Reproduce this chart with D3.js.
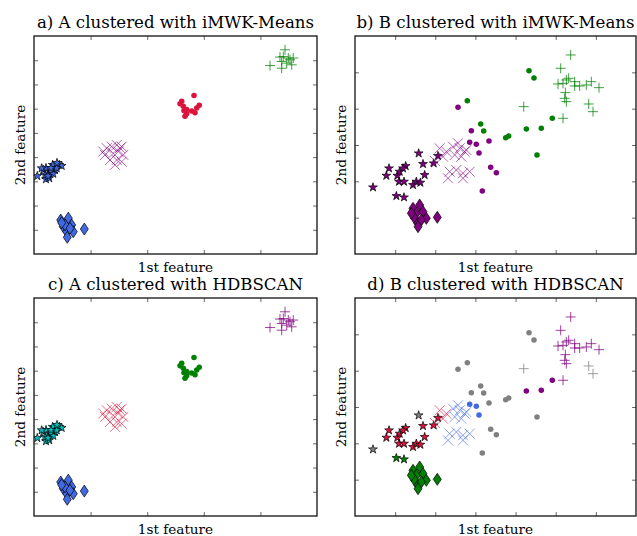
<!DOCTYPE html>
<html><head><meta charset="utf-8">
<script src="https://cdn.jsdelivr.net/npm/d3@7"></script>
<style>body{margin:0;background:#fff}svg{display:block}</style>
</head><body>
<svg id="chart" width="637" height="536"></svg>
<script>
// ---------- Data set A (same points in panels a and c) ----------
const A_star = [[0.058,3.22],[0.164,3.47],[0.212,3.55],[0.253,3.33],[0.330,3.68],[0.371,3.47],[0.447,3.68],[0.489,3.64],[0.212,3.09],[0.270,3.13],[0.295,3.40],[0.341,3.31],[0.136,3.54],[0.401,3.54],[0.194,3.26],[0.300,3.55],[0.406,3.76],[0.247,3.22]];
const A_diamond = [[0.472,1.40],[0.606,1.48],[0.518,1.13],[0.666,1.20],[0.578,0.92],[0.694,0.92],[0.588,0.69],[0.548,1.20],[0.889,1.03],[0.636,1.06],[0.489,1.29]];
const A_x = [[1.284,4.37],[1.373,4.43],[1.461,4.50],[1.549,4.43],[1.254,4.09],[1.401,4.16],[1.489,4.23],[1.578,4.09],[1.343,3.88],[1.461,3.88],[1.431,3.68],[1.549,3.81],[1.224,4.23],[1.519,4.37]];
const A_circle = [[2.610,6.31],[2.827,6.54],[2.638,6.10],[2.698,5.96],[2.786,5.90],[2.875,6.03],[2.920,6.14],[2.845,5.83],[2.668,5.69],[2.698,5.79],[2.580,6.20],[2.650,5.91]];
const A_plus = [[4.435,8.43],[4.405,8.15],[4.493,8.09],[4.581,8.09],[4.376,7.95],[4.465,7.88],[4.553,7.81],[4.170,7.78],[4.376,7.67],[4.523,8.02],[4.346,8.13]];
// cluster label of each class in A
const A_imwkLabel = {star:0, diamond:0, x:1, circle:2, plus:3};
const A_hdbLabel  = {star:0, diamond:1, x:2, circle:3, plus:4};

// ---------- Data set B (same points in panels b and d) ----------
const B_star = [[0.448,1.835],[0.781,2.156],[0.847,2.358],[1.054,2.156],[1.113,2.266],[1.096,1.991],[1.221,1.991],[1.262,2.422],[1.196,2.358],[1.030,1.596],[1.221,1.560],[1.445,1.899],[1.528,1.991],[1.628,1.963],[1.586,2.771],[1.694,2.477],[1.735,2.174],[1.960,2.496],[2.067,2.697]];
const B_star_imwk = [1,1,1,1,1,1,1,1,1,1,1,1,1,1,1,1,1,1,1];
const B_star_hdb  = [-1,0,0,0,0,0,0,0,0,1,1,0,0,0,-1,0,0,0,0];
const B_diamond = [[1.445,1.257],[1.611,1.349],[1.528,1.120],[1.694,1.165],[1.777,0.982],[1.486,0.982],[1.570,0.844],[1.653,0.936],[1.570,0.752],[2.050,1.009],[1.403,1.120]];
const B_diamond_imwk = [1,1,1,1,1,1,1,1,1,1,1];
const B_diamond_hdb  = [1,1,1,1,1,1,1,1,1,1,1];
const B_x = [[2.109,2.909],[2.275,2.817],[2.441,2.954],[2.607,2.909],[2.773,2.863],[2.192,2.679],[2.483,2.725],[2.649,2.679],[2.732,2.817],[2.358,2.266],[2.524,2.312],[2.690,2.221],[2.857,2.266],[2.317,2.083],[2.690,2.083],[2.566,3.047],[1.990,2.560]];
const B_x_imwk = [1,1,1,1,1,1,1,1,1,1,1,1,1,1,1,1,1];
const B_x_hdb  = [0,0,2,2,2,0,2,2,2,2,2,2,2,2,2,2,0];
const B_circle = [[2.566,4.037],[2.898,3.394],[2.857,3.074],[3.022,3.019],[3.089,2.780],[3.338,3.110],[3.380,2.386],[3.521,2.238],[3.171,1.734],[2.798,4.220],[3.131,3.578],[3.206,3.386],[3.754,3.202],[3.829,3.248],[4.268,3.441],[4.641,3.460],[4.915,3.735],[4.335,5.045],[4.459,4.845],[4.534,2.725]];
const B_circle_imwk = [1,1,1,1,1,1,1,1,1,2,2,2,2,2,2,2,2,2,2,2];
const B_circle_hdb  = [-1,-1,2,2,2,-1,-1,-1,-1,-1,-1,-1,-1,-1,3,3,3,-1,-1,-1];
const B_plus = [[5.373,5.478],[5.124,5.111],[5.057,4.679],[5.182,4.697],[5.265,4.790],[5.323,4.836],[5.473,4.743],[5.473,4.624],[5.597,4.624],[5.763,4.652],[5.887,4.743],[6.079,4.578],[5.240,4.441],[5.224,4.285],[5.265,4.193],[5.822,4.129],[5.929,3.917],[4.203,4.055],[5.182,3.735]];
const B_plus_imwk = [2,2,2,2,2,2,2,2,2,2,2,2,2,2,2,2,2,2,2];
const B_plus_hdb  = [3,3,3,3,3,3,3,3,3,3,3,3,3,3,3,-1,-1,-1,3];

// ---------- Tick values and titles ----------
const ticksA_x = [1,2,3,4], ticksA_y = [1,2,3,4,5,6,7,8];
const ticksB_x = [1,2,3,4,5,6], ticksB_y = [1,2,3,4,5];
const titles = ["a) A clustered with iMWK-Means","b) B clustered with iMWK-Means","c) A clustered with HDBSCAN","d) B clustered with HDBSCAN"];
const xLabel = "1st feature", yLabel = "2nd feature";

// ---------- Colour maps ----------
const colA_imwk = {0:"#4169e1",1:"#800080",2:"#dc143c",3:"#008000"};
const colA_hdb  = {0:"#00bfbf",1:"#4169e1",2:"#dc143c",3:"#008000",4:"#800080"};
const colB_imwk = {1:"#800080",2:"#008000"};
const colB_hdb  = {"-1":"#808080",0:"#dc143c",1:"#008000",2:"#4169e1",3:"#800080"};

const svg = d3.select("#chart");

function buildA(labels, cmap){
  const out = [];
  const cls = {star:A_star, diamond:A_diamond, x:A_x, circle:A_circle, plus:A_plus};
  for (const k of ["star","diamond","x","circle","plus"]) {
    cls[k].forEach(p => out.push({x:p[0], y:p[1], m:k, c:cmap[labels[k]]}));
  }
  return out;
}
function buildB(which, cmap){
  const out = [];
  const cls = {star:[B_star,B_star_imwk,B_star_hdb], diamond:[B_diamond,B_diamond_imwk,B_diamond_hdb],
               x:[B_x,B_x_imwk,B_x_hdb], circle:[B_circle,B_circle_imwk,B_circle_hdb], plus:[B_plus,B_plus_imwk,B_plus_hdb]};
  for (const k of ["star","diamond","x","circle","plus"]) {
    const [pts, l1, l2] = cls[k];
    const lab = which === "imwk" ? l1 : l2;
    pts.forEach((p,i) => out.push({x:p[0], y:p[1], m:k, c:cmap[lab[i]]}));
  }
  return out;
}

const panels = [
  {x0:34,  x1:317, y0:36,  y1:254, xd:[0,5], yd:[0,9], tx:ticksA_x, ty:ticksA_y, title:titles[0], pts:buildA(A_imwkLabel,colA_imwk)},
  {x0:355, x1:636, y0:36,  y1:254, xd:[0,7], yd:[0,6], tx:ticksB_x, ty:ticksB_y, title:titles[1], pts:buildB("imwk",colB_imwk)},
  {x0:34,  x1:317, y0:298, y1:516, xd:[0,5], yd:[0,9], tx:ticksA_x, ty:ticksA_y, title:titles[2], pts:buildA(A_hdbLabel,colA_hdb)},
  {x0:355, x1:636, y0:298, y1:516, xd:[0,7], yd:[0,6], tx:ticksB_x, ty:ticksB_y, title:titles[3], pts:buildB("hdb",colB_hdb)}
];

const starPath = d3.symbol().type(d3.symbolStar).size(24)();
const circlePath = d3.symbol().type(d3.symbolCircle).size(24)();
const diamondPath = "M0,-6L4,0L0,6L-4,0Z";
const xPath = "M-5,-5L5,5M-5,5L5,-5";
const plusPath = "M-5,0L5,0M0,-5L0,5";

panels.forEach(P => {
  const x = d3.scaleLinear().domain(P.xd).range([P.x0, P.x1]);
  const y = d3.scaleLinear().domain(P.yd).range([P.y1, P.y0]);
  const g = svg.append("g");
  const clipId = "clip" + P.x0 + "_" + P.y0;
  g.append("clipPath").attr("id", clipId).append("rect")
    .attr("x",P.x0).attr("y",P.y0).attr("width",P.x1-P.x0).attr("height",P.y1-P.y0);
  const pg = g.append("g").attr("clip-path","url(#"+clipId+")");

  pg.selectAll("path.m").data(P.pts).join("path")
    .attr("transform", d => `translate(${x(d.x)},${y(d.y)})`)
    .attr("d", d => d.m==="star" ? starPath : d.m==="diamond" ? diamondPath : d.m==="x" ? xPath : d.m==="plus" ? plusPath : circlePath)
    .attr("fill", d => (d.m==="x"||d.m==="plus") ? "none" : d.c)
    .attr("stroke", d => (d.m==="star"||d.m==="diamond") ? "#000" : (d.m==="circle" ? "none" : d.c))
    .attr("stroke-width", d => (d.m==="star"||d.m==="diamond") ? 0.7 : 1)
    .attr("opacity", d => d.m==="x" ? 0.6 : d.m==="plus" ? 0.75 : 1);

  // inward ticks on all four sides
  const tk = (axis, tr) => {
    const a = g.append("g").attr("transform", tr).call(axis);
    a.select(".domain").remove();
    a.selectAll("line").attr("stroke","#444").attr("stroke-width",0.8);
    a.selectAll("text").remove();
  };
  tk(d3.axisBottom(x).tickValues(P.tx).tickSize(-4).tickFormat(""), `translate(0,${P.y1})`);
  tk(d3.axisTop(x).tickValues(P.tx).tickSize(-4).tickFormat(""), `translate(0,${P.y0})`);
  tk(d3.axisLeft(y).tickValues(P.ty).tickSize(-4).tickFormat(""), `translate(${P.x0},0)`);
  tk(d3.axisRight(y).tickValues(P.ty).tickSize(-4).tickFormat(""), `translate(${P.x1},0)`);

  g.append("rect").attr("x",P.x0).attr("y",P.y0).attr("width",P.x1-P.x0).attr("height",P.y1-P.y0)
    .attr("fill","none").attr("stroke","#111").attr("stroke-width",1.3);

  const cx = (P.x0+P.x1)/2, cy = (P.y0+P.y1)/2;
  g.append("text").attr("x",cx).attr("y",P.y0-8).attr("text-anchor","middle")
    .attr("font-family","DejaVu Serif").attr("font-size",16.6).attr("fill","#000").text(P.title);
  g.append("text").attr("x",cx).attr("y",P.y1+18).attr("text-anchor","middle")
    .attr("font-family","DejaVu Serif").attr("font-size",13.6).attr("fill","#000").text(xLabel);
  g.append("text").attr("transform",`translate(${P.x0-9},${cy}) rotate(-90)`).attr("text-anchor","middle")
    .attr("font-family","DejaVu Serif").attr("font-size",13.6).attr("fill","#000").text(yLabel);
});
</script>
</body></html>
